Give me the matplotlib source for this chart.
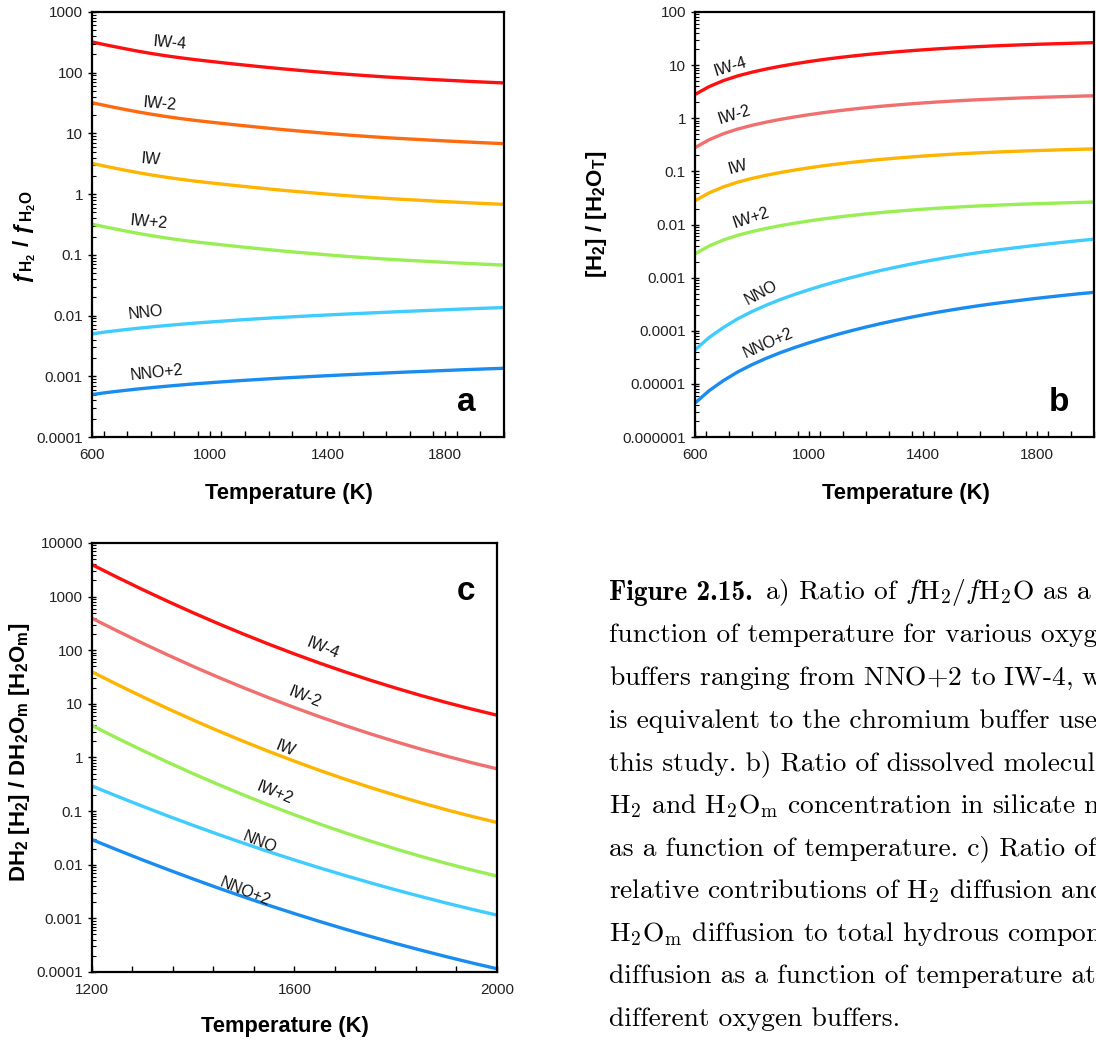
import numpy as np
import matplotlib
matplotlib.use("Agg")
import matplotlib.pyplot as plt
from matplotlib.ticker import LogLocator, MultipleLocator, FuncFormatter, NullFormatter

plt.rcParams['font.family'] = ['Liberation Sans', 'DejaVu Sans']
plt.rcParams['mathtext.fontset'] = 'custom'
plt.rcParams['mathtext.rm'] = 'Liberation Sans:bold'
plt.rcParams['mathtext.it'] = 'Liberation Sans:bold:italic'
plt.rcParams['mathtext.bf'] = 'Liberation Sans:bold'

buffers = ["IW-4", "IW-2", "IW", "IW+2", "NNO", "NNO+2"]

# panel a: fH2/fH2O vs T
temp_ab = [600, 650, 700, 750, 800, 850, 900, 950, 1000, 1050, 1100, 1150, 1200, 1250, 1300,
           1350, 1400, 1450, 1500, 1550, 1600, 1650, 1700, 1750, 1800, 1850, 1900, 1950, 2000]
fa_iw_m4 = [321.4, 285.1, 255.3, 229.1, 208.0, 190.5, 176.2, 164.4, 154.2, 144.9, 136.5, 128.8, 121.9, 115.6, 109.9,
            104.7, 100.0, 95.7, 91.8, 88.3, 85.1, 82.4, 80.0, 77.6, 75.3, 73.3, 71.3, 69.5, 67.9]
fa_iw_m2 = [32.1, 28.5, 25.5, 22.9, 20.8, 19.05, 17.6, 16.4, 15.4, 14.5, 13.65, 12.9, 12.2, 11.55, 11.0,
            10.5, 10.0, 9.57, 9.18, 8.83, 8.51, 8.24, 8.0, 7.76, 7.53, 7.33, 7.13, 6.95, 6.79]
fa_iw = [3.21, 2.85, 2.55, 2.29, 2.08, 1.905, 1.76, 1.64, 1.54, 1.45, 1.365, 1.29, 1.22, 1.155, 1.10,
         1.05, 1.00, 0.957, 0.918, 0.883, 0.851, 0.824, 0.800, 0.776, 0.753, 0.733, 0.713, 0.695, 0.679]
fa_iw_p2 = [0.321, 0.285, 0.255, 0.229, 0.208, 0.1905, 0.176, 0.164, 0.154, 0.145, 0.1365, 0.129, 0.122, 0.1155, 0.110,
            0.105, 0.100, 0.0957, 0.0918, 0.0883, 0.0851, 0.0824, 0.0800, 0.0776, 0.0753, 0.0733, 0.0713, 0.0695, 0.0679]
fa_nno = [0.00500, 0.00540, 0.00577, 0.00614, 0.00649, 0.00684, 0.00718, 0.00752, 0.00783, 0.00815, 0.00847,
          0.00877, 0.00908, 0.00938, 0.00966, 0.00995, 0.01023, 0.01052, 0.01079, 0.01107, 0.01135, 0.01164,
          0.01191, 0.01219, 0.01247, 0.01276, 0.01303, 0.01330, 0.01355]
fa_nno_p2 = [0.000500, 0.000540, 0.000577, 0.000614, 0.000649, 0.000684, 0.000718, 0.000752, 0.000783, 0.000815,
             0.000847, 0.000877, 0.000908, 0.000938, 0.000966, 0.000995, 0.001023, 0.001052, 0.001079, 0.001107,
             0.001135, 0.001164, 0.001191, 0.001219, 0.001247, 0.001276, 0.001303, 0.001330, 0.001355]

# panel b: [H2]/[H2OT] vs T
cb_iw_m4 = [2.80, 3.95, 5.12, 6.27, 7.36, 8.45, 9.53, 10.59, 11.67, 12.74, 13.77, 14.79, 15.78, 16.75, 17.66,
            18.54, 19.41, 20.23, 20.99, 21.73, 22.39, 23.01, 23.60, 24.15, 24.66, 25.12, 25.59, 26.06, 26.49]
cb_iw_m2 = [0.280, 0.395, 0.512, 0.627, 0.736, 0.845, 0.953, 1.059, 1.167, 1.274, 1.377, 1.479, 1.578, 1.675, 1.766,
            1.854, 1.941, 2.023, 2.099, 2.173, 2.239, 2.301, 2.360, 2.415, 2.466, 2.512, 2.559, 2.606, 2.649]
cb_iw = [0.0280, 0.0395, 0.0512, 0.0627, 0.0736, 0.0845, 0.0953, 0.1059, 0.1167, 0.1274, 0.1377, 0.1479, 0.1578,
         0.1675, 0.1766, 0.1854, 0.1941, 0.2023, 0.2099, 0.2173, 0.2239, 0.2301, 0.2360, 0.2415, 0.2466, 0.2512,
         0.2559, 0.2606, 0.2649]
cb_iw_p2 = [0.00280, 0.00395, 0.00512, 0.00627, 0.00736, 0.00845, 0.00953, 0.01059, 0.01167, 0.01274, 0.01377,
            0.01479, 0.01578, 0.01675, 0.01766, 0.01854, 0.01941, 0.02023, 0.02099, 0.02173, 0.02239, 0.02301,
            0.02360, 0.02415, 0.02466, 0.02512, 0.02559, 0.02606, 0.02649]
cb_nno = [4.36e-5, 7.48e-5, 1.156e-4, 1.679e-4, 2.30e-4, 3.03e-4, 3.88e-4, 4.84e-4, 5.93e-4, 7.16e-4, 8.55e-4,
          1.007e-3, 1.175e-3, 1.358e-3, 1.552e-3, 1.762e-3, 1.986e-3, 2.223e-3, 2.466e-3, 2.723e-3, 2.985e-3,
          3.251e-3, 3.516e-3, 3.793e-3, 4.083e-3, 4.375e-3, 4.677e-3, 4.989e-3, 5.284e-3]
cb_nno_p2 = [4.36e-6, 7.48e-6, 1.156e-5, 1.679e-5, 2.30e-5, 3.03e-5, 3.88e-5, 4.84e-5, 5.93e-5, 7.16e-5, 8.55e-5,
             1.007e-4, 1.175e-4, 1.358e-4, 1.552e-4, 1.762e-4, 1.986e-4, 2.223e-4, 2.466e-4, 2.723e-4, 2.985e-4,
             3.251e-4, 3.516e-4, 3.793e-4, 4.083e-4, 4.375e-4, 4.677e-4, 4.989e-4, 5.284e-4]

# panel c: DH2[H2] / DH2Om[H2Om] vs T
temp_c = [1200, 1250, 1300, 1350, 1400, 1450, 1500, 1550, 1600, 1650, 1700, 1750, 1800, 1850, 1900, 1950, 2000]
dc_iw_m4 = [3950, 2291, 1352, 815, 499, 312, 199, 129, 85.3, 57.4, 39.4, 27.6, 19.7, 14.3, 10.6, 8.0, 6.15]
dc_iw_m2 = [395, 229.1, 135.2, 81.5, 49.9, 31.2, 19.9, 12.9, 8.53, 5.74, 3.94, 2.76, 1.97, 1.43, 1.06, 0.80, 0.615]
dc_iw = [39.5, 22.91, 13.52, 8.15, 4.99, 3.12, 1.99, 1.29, 0.853, 0.574, 0.394, 0.276, 0.197, 0.143, 0.106, 0.080, 0.0615]
dc_iw_p2 = [3.95, 2.291, 1.352, 0.815, 0.499, 0.312, 0.199, 0.129, 0.0853, 0.0574, 0.0394, 0.0276, 0.0197, 0.0143,
            0.0106, 0.0080, 0.00615]
dc_nno = [0.294, 0.189, 0.123, 0.0812, 0.0542, 0.0366, 0.0251, 0.0174, 0.01226, 0.00873, 0.00630, 0.00460,
          0.00340, 0.00255, 0.00193, 0.00148, 0.00115]
dc_nno_p2 = [0.0294, 0.0189, 0.0123, 0.00812, 0.00542, 0.00366, 0.00251, 0.00174, 0.001226, 0.000873, 0.000630,
             0.000460, 0.000340, 0.000255, 0.000193, 0.000148, 0.000115]

colors_a = ['#ff1010', '#ff6a10', '#ffb400', '#99ee55', '#40ccff', '#1a8cf0']
colors_bc = ['#ff1010', '#f07070', '#ffb400', '#99ee55', '#40ccff', '#1a8cf0']

caption_head = "Figure 2.15."
caption_lines = [
    r"a) Ratio of $f\mathrm{H}_2/f\mathrm{H}_2\mathrm{O}$ as a",
    "function of temperature for various oxyg",
    "buffers ranging from NNO$+$2 to IW-4, w",
    "is equivalent to the chromium buffer use",
    "this study. b) Ratio of dissolved molecul",
    r"H$_2$ and H$_2$O$_\mathrm{m}$ concentration in silicate me",
    "as a function of temperature. c) Ratio of",
    r"relative contributions of H$_2$ diffusion and",
    r"H$_2$O$_\mathrm{m}$ diffusion to total hydrous compone",
    "diffusion as a function of temperature at",
    "different oxygen buffers.",
]


def fmt(v, pos):
    e = int(round(np.log10(v)))
    return f"{v:.{max(0, -e)}f}"


def style_axes(ax, xlim, xmajor, ylim):
    ax.set_yscale('log')
    ax.set_xlim(*xlim)
    ax.set_ylim(*ylim)
    ax.xaxis.set_major_locator(MultipleLocator(xmajor))
    ax.xaxis.set_minor_locator(MultipleLocator(80))
    ax.yaxis.set_major_locator(LogLocator(base=10, numticks=20))
    ax.yaxis.set_minor_locator(LogLocator(base=10, subs=np.arange(2, 10), numticks=20))
    ax.yaxis.set_major_formatter(FuncFormatter(fmt))
    ax.yaxis.set_minor_formatter(NullFormatter())
    ax.tick_params(axis='both', which='both', direction='in', labelsize=11, labelcolor='#222222')
    ax.tick_params(axis='y', which='major', direction='inout', length=6, width=1)
    ax.tick_params(axis='y', which='minor', length=3, width=0.8)
    ax.tick_params(axis='x', which='both', length=4, width=1, pad=8)
    for s in ax.spines.values():
        s.set_linewidth(1.6)


def put_labels(ax, positions, rot):
    for name, (fx, fy), r in zip(buffers, positions, rot):
        ax.text(fx, fy, name, transform=ax.transAxes, ha='center', va='center',
                rotation=r, fontsize=11.5, color='#111111')


def axis_titles(ax, ylab, ycoords, xcoords):
    ax.set_ylabel(ylab, fontsize=16, fontweight='bold', va='center')
    ax.yaxis.set_label_coords(*ycoords)
    ax.set_xlabel('Temperature (K)', fontsize=15.75, fontweight='bold', va='center')
    ax.xaxis.set_label_coords(*xcoords)


fig = plt.figure(figsize=(10.96, 10.43), dpi=100)

# ---- panel a
ax_a = fig.add_axes([0.0839, 0.5810, 0.3759, 0.4075])
for vals, c in zip([fa_iw_m4, fa_iw_m2, fa_iw, fa_iw_p2, fa_nno, fa_nno_p2], colors_a):
    ax_a.plot(temp_ab, vals, color=c, lw=2.4, solid_capstyle='butt')
style_axes(ax_a, (600, 2000), 400, (1e-4, 1e3))
ax_a.set_xticks([600, 1000, 1400, 1800])
put_labels(ax_a, [(0.189, 0.927), (0.165, 0.784), (0.143, 0.654), (0.138, 0.506),
                  (0.131, 0.292), (0.158, 0.151)], [-5, -5, -5, -5, 6, 6])
axis_titles(ax_a, 'ƒ$_{\\mathrm{H_2}}$ / ƒ$_{\\mathrm{H_2O}}$', (-0.163, 0.47), (0.478, -0.132))
ax_a.text(0.908, 0.082, 'a', transform=ax_a.transAxes, fontsize=24, fontweight='bold', ha='center', va='center')

# ---- panel b
ax_b = fig.add_axes([0.6341, 0.5810, 0.3641, 0.4075])
for vals, c in zip([cb_iw_m4, cb_iw_m2, cb_iw, cb_iw_p2, cb_nno, cb_nno_p2], colors_bc):
    ax_b.plot(temp_ab, vals, color=c, lw=2.4, solid_capstyle='butt')
style_axes(ax_b, (600, 2000), 400, (1e-6, 1e2))
ax_b.set_xticks([600, 1000, 1400, 1800])
put_labels(ax_b, [(0.088, 0.871), (0.098, 0.758), (0.108, 0.635), (0.140, 0.515),
                  (0.165, 0.339), (0.183, 0.221)], [17, 17, 15, 18, 28, 24])
axis_titles(ax_b, '[H$_2$] / [H$_2$O$_\\mathrm{T}$]', (-0.246, 0.525), (0.529, -0.132))
ax_b.text(0.912, 0.082, 'b', transform=ax_b.transAxes, fontsize=24, fontweight='bold', ha='center', va='center')

# ---- panel c
ax_c = fig.add_axes([0.0839, 0.0681, 0.3695, 0.4113])
for vals, c in zip([dc_iw_m4, dc_iw_m2, dc_iw, dc_iw_p2, dc_nno, dc_nno_p2], colors_bc):
    ax_c.plot(temp_c, vals, color=c, lw=2.4, solid_capstyle='butt')
style_axes(ax_c, (1200, 2000), 400, (1e-4, 1e4))
put_labels(ax_c, [(0.570, 0.755), (0.526, 0.641), (0.477, 0.522), (0.452, 0.417),
                  (0.415, 0.303), (0.378, 0.186)], [-22] * 6)
axis_titles(ax_c, 'DH$_2$ [H$_2$] / DH$_2$O$_\\mathrm{m}$ [H$_2$O$_\\mathrm{m}$]', (-0.178, 0.513), (0.477, -0.128))
ax_c.text(0.923, 0.886, 'c', transform=ax_c.transAxes, fontsize=24, fontweight='bold', ha='center', va='center')

# ---- caption (cut at the right edge like the page screenshot)
x0 = 609 / 1096
cap_size = 19.8
renderer = fig.canvas.get_renderer()
for i, line in enumerate(caption_lines):
    y = 1 - (593 + i * 42.6) / 1043
    x = x0
    if i == 0:
        head = fig.text(x0, y, caption_head, fontsize=cap_size, family='cmb10', ha='left', va='center')
        x = fig.transFigure.inverted().transform(head.get_window_extent(renderer))[1][0] + 12 / 1096
    fig.text(x, y, line, fontsize=cap_size, family='cmr10', math_fontfamily='cm',
             ha='left', va='center', color='black')

fig.savefig('out.png', dpi=100)
